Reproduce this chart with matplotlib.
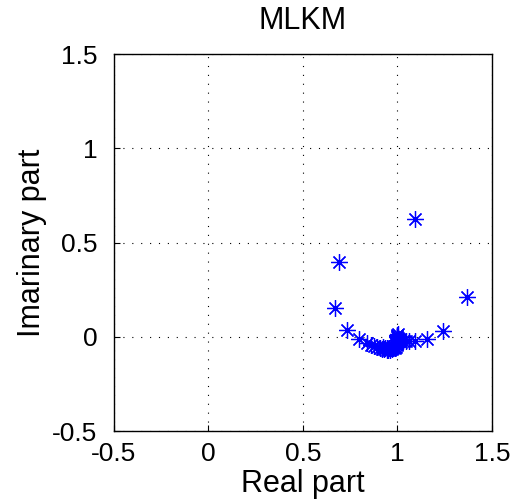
import matplotlib
matplotlib.use("Agg")
from matplotlib import pyplot as plt

plt.rcParams["font.family"] = ["Liberation Sans", "DejaVu Sans"]

# eigenvalue estimates
real_part = [1.095, 0.691, 0.671, 1.369, 0.733, 1.240, 0.794, 1.155, 1.095, 1.060,
             1.045, 1.030, 1.020, 0.838, 0.860, 0.875, 0.890, 0.905, 0.918, 0.930,
             0.942, 0.952, 0.962, 0.970, 0.978, 0.985, 0.990, 0.995, 0.998, 1.000,
             1.002, 1.004, 1.000, 0.996, 0.990, 0.982, 0.975, 0.965, 0.955, 0.945,
             0.935, 0.925, 1.008, 1.012, 0.995, 1.005]
imag_part = [0.627, 0.398, 0.154, 0.212, 0.035, 0.030, -0.013, -0.010, -0.023, -0.022,
             -0.020, -0.025, -0.030, -0.035, -0.042, -0.049, -0.054, -0.060, -0.063, -0.066,
             -0.068, -0.069, -0.068, -0.066, -0.062, -0.058, -0.052, -0.045, -0.036, -0.026,
             -0.015, -0.004, 0.006, 0.012, -0.040, -0.050, -0.056, -0.060, -0.062, -0.060,
             -0.057, -0.053, -0.010, -0.020, 0.000, 0.015]

x_ticks = [-0.5, 0, 0.5, 1, 1.5]
y_ticks = [-0.5, 0, 0.5, 1, 1.5]
tick_labels = ["-0.5", "0", "0.5", "1", "1.5"]

fig = plt.figure(figsize=(5.13, 5.03), dpi=100)
ax = fig.add_axes([0.2222, 0.1431, 0.7368, 0.7495])

ax.plot(real_part, imag_part, linestyle="none", marker=(8, 2, 0),
        markersize=12, markeredgewidth=0.9, color="blue")

ax.set_xlim(-0.5, 1.5)
ax.set_ylim(-0.5, 1.5)
ax.set_xticks(x_ticks)
ax.set_yticks(y_ticks)
ax.set_xticklabels(tick_labels)
ax.set_yticklabels(tick_labels)
ax.tick_params(direction="in", length=4, labelsize=19)
ax.tick_params(axis="x", pad=8)
ax.tick_params(axis="y", pad=12)
ax.grid(True, linestyle=(0, (1, 7)), color="black", linewidth=0.8)
for s in ax.spines.values():
    s.set_linewidth(1.0)

ax.set_xlabel("Real part", fontsize=22, labelpad=2)
ax.set_ylabel("Imarinary part", fontsize=22, labelpad=4)
ax.set_title("MLKM", fontsize=22, pad=18)

fig.savefig("out.png", dpi=100)
